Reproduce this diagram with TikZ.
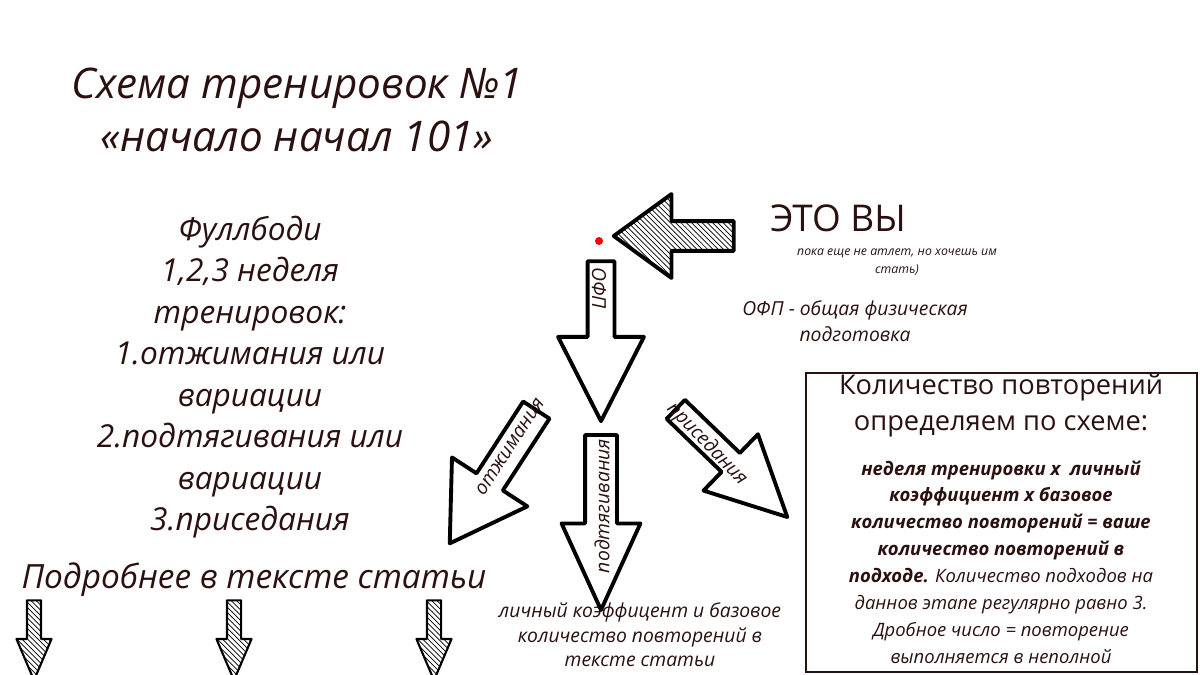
\documentclass[tikz,border=0pt]{standalone}
\usepackage{fontspec}
\setmainfont{Open Sans}
\usepackage{tikz}
\usetikzlibrary{shapes.arrows,patterns}
\definecolor{ink}{HTML}{2B1010}
\newcommand\shaft[1]{\rule{0pt}{#1}}
\tikzset{
  blk/.style={single arrow,draw=black,line width=2.2pt,fill=white,single arrow head indent=0pt,inner sep=0pt,line join=round},
  hatched/.style={pattern=north west lines,pattern color=black},
  txt/.style={text=ink,font=\itshape,align=center,inner sep=0pt}
}
\begin{document}
\begin{tikzpicture}[x=0.02cm,y=-0.02cm]
    \useasboundingbox[fill=white] (0,0) rectangle (1200,675);
    % titles
    \node[txt,font=\itshape\fontsize{24}{30}\selectfont] (title) at (297,110) {Схема тренировок №1\\«начало начал 101»};
    \node[txt,font=\itshape\fontsize{18}{23.6}\selectfont] (plan) at (250,377) {Фуллбоди\\1,2,3 неделя\\тренировок:\\1.отжимания или\\вариации\\2.подтягивания или\\вариации\\3.приседания};
    \node[txt,font=\itshape\fontsize{19}{24}\selectfont] (more) at (254,580) {Подробнее в тексте статьи};
    % you are here
    \node[txt,font=\fontsize{21}{26}\selectfont] (you) at (838,218) {ЭТО ВЫ};
    \node[txt,font=\itshape\fontsize{7}{10}\selectfont] (note) at (897,262) {пока еще не атлет, но хочешь им\\стать)};
    \node[txt,font=\itshape\fontsize{11}{15}\selectfont] (ofp) at (855,321) {ОФП - общая физическая\\подготовка};
    \node[txt,font=\itshape\fontsize{11}{14}\selectfont] (hint) at (640,635) {личный коэффицент и базовое\\количество повторений в\\тексте статьи};
    \fill[red] (599,241) circle (4);
    % big arrows
    \node[blk,hatched,rotate=180,minimum height=2.4cm,minimum width=1.6cm,single arrow head extend=0.54cm,single arrow tip angle=72] (start) at (684,236) {\shaft{0.52cm}};
    \node[blk,rotate=-90,minimum height=3.2cm,minimum width=1.64cm,single arrow head extend=0.59cm,single arrow tip angle=54] (a0) at (601,328) {\shaft{0.46cm}};
    \node[blk,rotate=-123,minimum height=3.18cm,minimum width=1.72cm,single arrow head extend=0.585cm,single arrow tip angle=63] (a1) at (500,466) {\shaft{0.55cm}};
    \node[blk,rotate=-90,minimum height=3.5cm,minimum width=1.5cm,single arrow head extend=0.47cm,single arrow tip angle=49] (a2) at (601,505) {\shaft{0.56cm}};
    \node[blk,rotate=-44,minimum height=3.1cm,minimum width=1.5cm,single arrow head extend=0.52cm,single arrow tip angle=53] (a3) at (722,454) {\shaft{0.45cm}};
    \node[txt,font=\itshape\fontsize{11}{14}\selectfont,rotate=-90] (l0) at (599,288) {ОФП};
    \node[txt,font=\itshape\fontsize{11}{14}\selectfont,rotate=57] (l1) at (510,447) {отжимания};
    \node[txt,font=\itshape\fontsize{11}{14}\selectfont,rotate=90] (l2) at (602,506) {подтягивания};
    \node[txt,font=\itshape\fontsize{11}{14}\selectfont,rotate=-46] (l3) at (707,444) {приседания};
    % small arrows
    \foreach \x in {34,234,434}
      \node[blk,hatched,line width=1.2pt,rotate=-90,minimum height=1.6cm,minimum width=0.66cm,single arrow head extend=0.21cm,single arrow tip angle=46] (s\x) at (\x,632) {\shaft{0.24cm}};
    % scheme box
    \draw[line width=1.5pt,ink] (806,373) rectangle (1197,672);
    \node[txt,font=\fontsize{15.5}{20.5}\selectfont] (boxhead) at (1001,405) {Количество повторений\\определяем по схеме:};
    \node[txt,font=\itshape\fontsize{10.5}{15.3}\selectfont] (boxbody) at (1001,562) {\textbf{неделя тренировки х~ личный}\\\textbf{коэффициент х базовое}\\\textbf{количество повторений = ваше}\\\textbf{количество повторений в}\\\textbf{подходе.} Количество подходов на\\даннов этапе регулярно равно 3.\\Дробное число = повторение\\выполняется в неполной};
\end{tikzpicture}
\end{document}
